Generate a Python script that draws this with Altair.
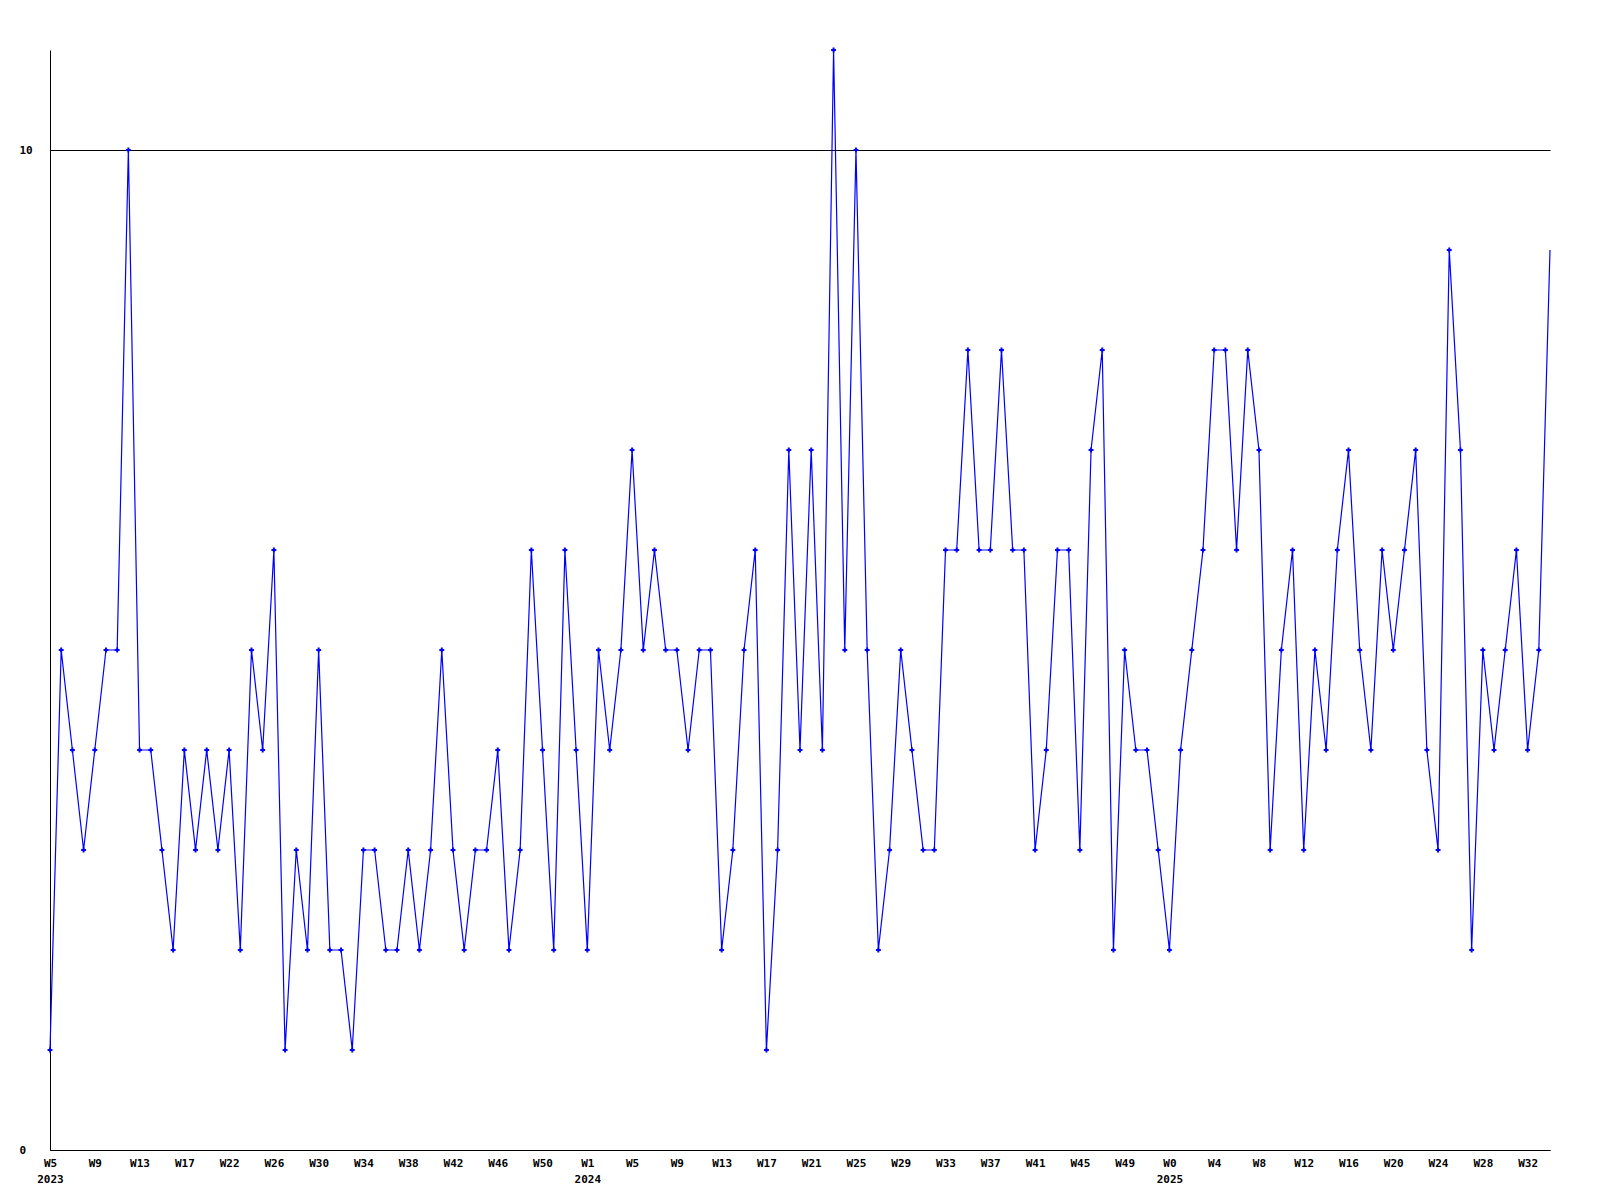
import altair as alt
import pandas as pd
import json

# weekly values, one per week starting at W5 2023
values = [
    1, 5, 4, 3, 4, 5, 5, 10, 4, 4,
    3, 2, 4, 3, 4, 3, 4, 2, 5, 4,
    6, 1, 3, 2, 5, 2, 2, 1, 3, 3,
    2, 2, 3, 2, 3, 5, 3, 2, 3, 3,
    4, 2, 3, 6, 4, 2, 6, 4, 2, 5,
    4, 5, 7, 5, 6, 5, 5, 4, 5, 5,
    2, 3, 5, 6, 1, 3, 7, 4, 7, 4,
    11, 5, 10, 5, 2, 3, 5, 4, 3, 3,
    6, 6, 8, 6, 6, 8, 6, 6, 3, 4,
    6, 6, 3, 7, 8, 2, 5, 4, 4, 3,
    2, 4, 5, 6, 8, 8, 6, 8, 7, 3,
    5, 6, 3, 5, 4, 6, 7, 5, 4, 6,
    5, 6, 7, 4, 3, 9, 7, 2, 5, 4,
    5, 6, 4, 5, 9,
]

# tick labels every 4 weeks
week_labels = [
    "W5", "W9", "W13", "W17", "W22", "W26", "W30", "W34", "W38", "W42", "W46", "W50",
    "W1", "W5", "W9", "W13", "W17", "W21", "W25", "W29", "W33", "W37", "W41", "W45", "W49",
    "W0", "W4", "W8", "W12", "W16", "W20", "W24", "W28", "W32",
]
year_labels = {0: "2023", 12: "2024", 25: "2025"}

y_ticks = [0, 10]

df = pd.DataFrame({"idx": list(range(len(values))), "value": values})
last_idx = len(values) - 1

label_arrays = []
for i, w in enumerate(week_labels):
    if i in year_labels:
        label_arrays.append([w, year_labels[i]])
    else:
        label_arrays.append([w])
label_expr = json.dumps(label_arrays) + "[round(datum.value / 4)]"
tick_vals = [i * 4 for i in range(len(week_labels))]

FONT = "DejaVu Sans Mono"

x = alt.X(
    "idx:Q",
    scale=alt.Scale(domain=[0, last_idx], nice=False, zero=False),
    axis=alt.Axis(
        values=tick_vals,
        labelExpr=label_expr,
        title=None,
        ticks=False,
        grid=False,
        domainColor="black",
        domainWidth=1,
        labelFont=FONT,
        labelFontWeight="bold",
        labelFontSize=11,
        labelColor="black",
        labelAlign="center",
        labelBaseline="top",
        labelPadding=7,
        labelLineHeight=16,
        labelOverlap=False,
        labelFlush=False,
        labelBound=False,
    ),
)
y = alt.Y(
    "value:Q",
    scale=alt.Scale(domain=[0, 11], nice=False, zero=True),
    axis=alt.Axis(
        values=y_ticks,
        title=None,
        ticks=False,
        grid=True,
        gridColor="black",
        gridOpacity=1,
        gridWidth=1,
        domainColor="black",
        domainWidth=1,
        labelFont=FONT,
        labelFontWeight="bold",
        labelFontSize=11,
        labelColor="black",
        labelAlign="left",
        labelPadding=31,
    ),
)

base = alt.Chart(df)
line = base.mark_line(color="#0000ff", strokeWidth=1.2).encode(x=x, y=y)
pts = base.transform_filter(f"datum.idx < {last_idx}").mark_point(
    shape="cross", size=24, filled=True, color="#0000ff", opacity=1
).encode(x=x, y=y)

chart = (
    alt.layer(line, pts)
    .properties(
        width=1500,
        height=1100,
        autosize=alt.AutoSizeParams(type="none"),
        padding={"left": 42, "top": 42, "right": 20, "bottom": 38},
    )
    .configure(
        background="white",
        view=alt.ViewConfig(stroke="transparent", strokeWidth=0),
    )
)

chart.save("out.html", embed_options={"renderer": "svg", "actions": False})
